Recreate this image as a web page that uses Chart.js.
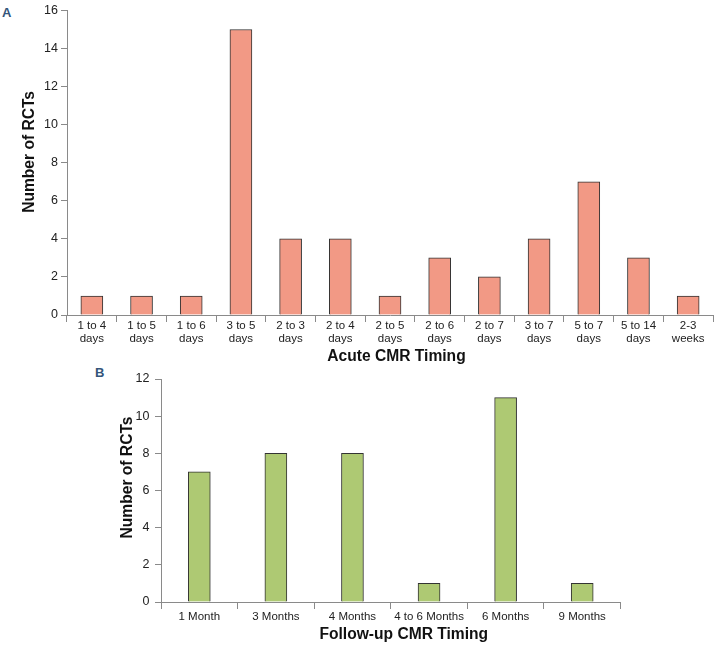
<!DOCTYPE html>
<html><head><meta charset="utf-8">
<script src="https://cdn.jsdelivr.net/npm/chart.js@4"></script>
<style>
html,body{margin:0;padding:0;background:#fff;}
body{width:714px;height:647px;position:relative;overflow:hidden;font-family:"Liberation Sans",Arial,sans-serif;}
canvas{position:absolute;left:0;}
#ca{top:0;}
#cb{top:366px;}
.lab{position:absolute;font-weight:bold;font-size:13px;line-height:1;color:#34557a;font-family:"Liberation Sans",Arial,sans-serif;}
</style></head><body>
<div class="lab" style="left:2px;top:6px">A</div>
<div class="lab" style="left:95px;top:366px">B</div>
<canvas id="ca" width="714" height="366"></canvas>
<canvas id="cb" width="714" height="281"></canvas>
<script>
const acuteCategories = [["1 to 4","days"],["1 to 5","days"],["1 to 6","days"],["3 to 5","days"],["2 to 3","days"],["2 to 4","days"],["2 to 5","days"],["2 to 6","days"],["2 to 7","days"],["3 to 7","days"],["5 to 7","days"],["5 to 14","days"],["2-3","weeks"]];
const acuteCounts = [1,1,1,15,4,4,1,3,2,4,7,3,1];
const acuteTicks = [0,2,4,6,8,10,12,14,16];
const followCategories = ["1 Month","3 Months","4 Months","4 to 6 Months","6 Months","9 Months"];
const followCounts = [7,8,8,1,11,1];
const followTicks = [0,2,4,6,8,10,12];

const FAM = '"Liberation Sans", Arial, Helvetica, sans-serif';
const AXIS = '#8a8a8a';

function makeChart(id, labels, values, tickVals, o) {
  return new Chart(document.getElementById(id), {
    type: 'bar',
    data: { labels: labels, datasets: [{ data: values, backgroundColor: o.fill, borderColor: '#333333', borderWidth: 1, barThickness: 22 }] },
    options: {
      responsive: false, animation: false, devicePixelRatio: 1,
      layout: { padding: o.pad },
      plugins: { legend: { display: false }, tooltip: { enabled: false } },
      scales: {
        x: {
          offset: true,
          grid: { display: true, drawOnChartArea: false, drawTicks: true, tickLength: 7, color: AXIS, offset: true },
          border: { color: AXIS, width: 1 },
          ticks: { font: { family: FAM, size: 11.5, lineHeight: 1.15 }, color: '#222', padding: o.xPad, maxRotation: 0, minRotation: 0, autoSkip: false },
          title: { display: true, text: o.xTitle, font: { family: FAM, size: 15.6, weight: 'bold' }, color: '#111', padding: { top: 0, bottom: o.xTitlePad } },
          afterFit: s => { s.height = o.xHeight; }
        },
        y: {
          min: tickVals[0], max: tickVals[tickVals.length - 1],
          afterBuildTicks: s => { s.ticks = tickVals.map(v => ({ value: v })); },
          grid: { drawOnChartArea: false, drawTicks: true, tickLength: 6, color: AXIS },
          border: { color: AXIS, width: 1 },
          ticks: { font: { family: FAM, size: 12.5 }, color: '#222', padding: o.yPad },
          title: { display: true, text: o.yTitle, font: { family: FAM, size: 15.6, weight: 'bold' }, color: '#111', padding: { top: o.yTitlePad, bottom: 0 } },
          afterFit: s => { s.width = o.yWidth; }
        }
      }
    }
  });
}

makeChart('ca', acuteCategories, acuteCounts, acuteTicks, {
  fill: '#F29985', pad: { top: 5, left: 0, right: 1, bottom: 0 },
  xPad: -3, xHeight: 51, xTitle: '   Acute CMR Timing', xTitlePad: -0.5,
  yTitle: '     Number of RCTs',
  yPad: 3, yWidth: 67, yTitlePad: 20.5
});
makeChart('cb', followCategories, followCounts, followTicks, {
  fill: '#AEC973', pad: { top: 4.5, left: 110, right: 93.5, bottom: 0 },
  xPad: 1, xHeight: 45, xTitle: '      Follow-up CMR Timing', xTitlePad: 2.6,
  yTitle: '      Number of RCTs',
  yPad: 5.5, yWidth: 51, yTitlePad: 8.6
});
</script>
</body></html>
